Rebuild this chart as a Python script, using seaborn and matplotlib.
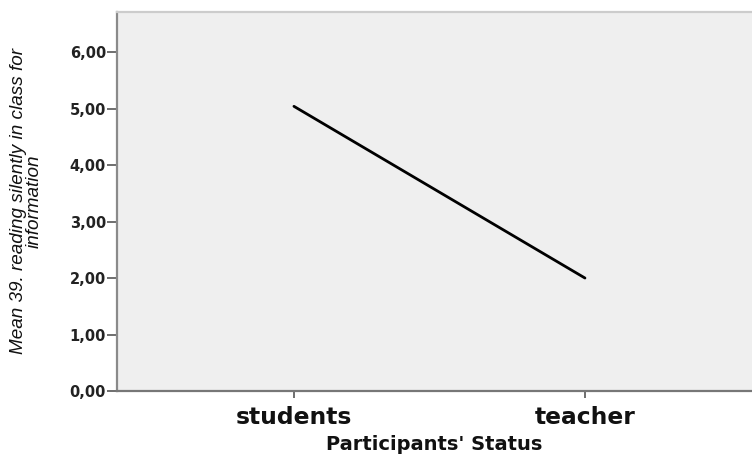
import matplotlib
matplotlib.use("Agg")
import matplotlib.pyplot as plt
import seaborn as sns
import pandas as pd

categories = ["students", "teacher"]
means = [5.04, 2.0]
y_ticks = [0, 1, 2, 3, 4, 5, 6]
y_tick_labels = ["0,00", "1,00", "2,00", "3,00", "4,00", "5,00", "6,00"]

df = pd.DataFrame({"status": categories, "mean": means})

sns.set_style("white")
fig = plt.figure(figsize=(7.52, 4.54), dpi=100)
ax = fig.add_axes([117/752, 1 - 391/454, 1 - 117/752, (391 - 12)/454])
ax.set_facecolor("#efefef")

sns.lineplot(data=df, x="status", y="mean", ax=ax, color="black", linewidth=2.0, sort=False)

ax.set_xlim(-0.608, 0.574 + 1)
ax.set_ylim(0, 6.71)
ax.set_yticks(y_ticks)
ax.set_yticklabels(y_tick_labels, fontfamily="DejaVu Sans", fontweight="bold", fontsize=10.5, color="#222222")
ax.set_xticks(range(len(categories)))
ax.set_xticklabels(categories, fontfamily="DejaVu Sans", fontweight="bold", fontsize=16.8, color="#111111")

ax.tick_params(axis="y", direction="out", length=7, width=1.2, color="#555555", pad=1, left=True)
ax.tick_params(axis="x", direction="out", length=5, width=1.2, color="#555555", pad=6, bottom=True)

for side, col in [("left", "#8a8a8a"), ("bottom", "#777777"), ("top", "#cccccc")]:
    ax.spines[side].set_visible(True)
    ax.spines[side].set_color(col)
    ax.spines[side].set_linewidth(1.6)
ax.spines["right"].set_visible(False)

ax.set_xlabel("Participants' Status", fontfamily="DejaVu Sans", fontweight="bold", fontsize=14, color="#111111", labelpad=4)
ax.set_ylabel("Mean 39. reading silently in class for\ninformation", fontfamily="Liberation Sans",
              fontstyle="italic", fontsize=13.6, color="#111111", linespacing=0.9, labelpad=19)

fig.savefig("out.png", dpi=100, facecolor="white")
